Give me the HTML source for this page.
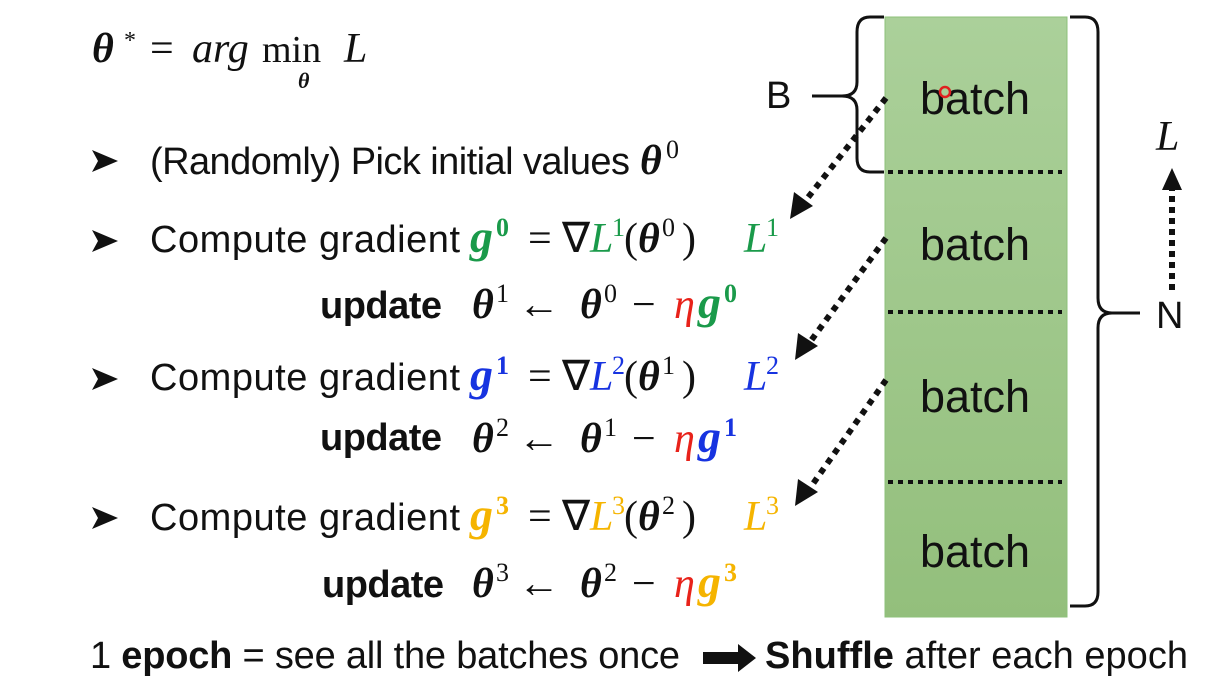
<!DOCTYPE html>
<html><head><meta charset="utf-8"><style>
html,body{margin:0;padding:0;background:#fff;width:1220px;height:691px;overflow:hidden}
svg{display:block}
.s{font-family:"Liberation Sans",sans-serif;font-size:38px;fill:#111}
.b{font-weight:bold}
.m{font-family:"Liberation Serif",serif;font-size:42px;fill:#111}
.i{font-style:italic}
.sup{font-size:26px}
.big{font-size:46px}
.g{fill:#1a9a4a}.bl{fill:#1733e0}.y{fill:#f5b400}.r{fill:#e8221a}
</style></head><body>
<svg width="1220" height="691" viewBox="0 0 1220 691" xmlns="http://www.w3.org/2000/svg">
<defs><linearGradient id="gr" x1="0" y1="0" x2="0" y2="1"><stop offset="0" stop-color="#abd09a"/><stop offset="1" stop-color="#93bf7c"/></linearGradient>
<g id="bul"><polygon points="0,-20 26,-9 0,2 6,-9" fill="#111"/></g></defs>
<rect x="885" y="17" width="182" height="600" fill="url(#gr)" stroke="#8cc07a" stroke-width="1"/>
<g stroke="#111" stroke-width="4" stroke-dasharray="5 5">
<line x1="888" y1="172" x2="1062" y2="172"/><line x1="888" y1="312" x2="1062" y2="312"/><line x1="888" y1="482" x2="1062" y2="482"/>
</g>
<g class="s" style="font-size:45px"><text x="920" y="114" textLength="110">batch</text><text x="920" y="260" textLength="110">batch</text><text x="920" y="412" textLength="110">batch</text><text x="920" y="567" textLength="110">batch</text></g>
<circle cx="945" cy="92" r="5" fill="none" stroke="#e02020" stroke-width="2.5"/>
<g fill="none" stroke="#111" stroke-width="3">
<path d="M884 17 H870 Q857 17 857 32 V82 Q857 96 842 96 H812 M842 96 Q857 96 857 110 V158 Q857 172 870 172 H884"/>
<path d="M1070 17 H1085 Q1098 17 1098 32 V298 Q1098 313 1112 313 H1140 M1112 313 Q1098 313 1098 328 V592 Q1098 606 1085 606 H1070"/>
</g>
<text class="s" x="766" y="108">B</text>
<text class="s" x="1156" y="328">N</text>
<text class="m i" x="1156" y="150">L</text>
<line x1="1172" y1="290" x2="1172" y2="190" stroke="#111" stroke-width="6" stroke-dasharray="6 5"/>
<polygon points="1172,168 1162,190 1182,190" fill="#111"/>
<g stroke="#111" stroke-width="6" stroke-dasharray="6 6">
<line x1="886" y1="98" x2="806" y2="200"/><line x1="886" y1="238" x2="810" y2="342"/><line x1="886" y1="380" x2="810" y2="488"/>
</g>
<g fill="#111"><polygon points="790,219 794,192 813,206"/><polygon points="795,360 798,333 818,346"/><polygon points="795,506 798,479 818,492"/></g>
<!-- title -->
<text class="m b i" x="92" y="62">θ</text>
<text class="m" x="124" y="48" style="font-size:24px">*</text>
<text class="m" x="150" y="62">=</text>
<text class="m i" x="192" y="62">arg</text>
<text class="m" x="262" y="62" style="font-size:38px">min</text>
<text class="m i" x="344" y="62">L</text>
<text class="m b i" x="298" y="88" style="font-size:22px">θ</text>
<!-- bullets -->
<use href="#bul" x="92" y="170"/><use href="#bul" x="92" y="250"/><use href="#bul" x="92" y="388"/><use href="#bul" x="92" y="527"/>
<text class="s" x="150" y="174" textLength="480">(Randomly) Pick initial values</text>
<text class="m b i" x="640" y="174">θ</text><text class="m sup" x="666" y="158">0</text>

<!-- row 1 -->
<text class="s" x="150" y="252" textLength="310">Compute gradient</text>
<text class="m b i g big" x="470" y="252">g</text><text class="m b g sup" x="496" y="236">0</text>
<text class="m" x="528" y="252">=</text><text class="m" x="562" y="252">∇</text>
<text class="m i g" x="590" y="252">L</text><text class="m g sup" x="612" y="236">1</text>
<text class="m" x="624" y="252">(</text><text class="m b i" x="638" y="252">θ</text><text class="m sup" x="662" y="236">0</text><text class="m" x="682" y="252">)</text>
<text class="m i g" x="744" y="252">L</text><text class="m g sup" x="766" y="236">1</text>
<text class="s b" x="320" y="318" textLength="122">update</text>
<text class="m b i" x="472" y="318">θ</text><text class="m sup" x="496" y="302">1</text>
<text class="m" x="518" y="318">←</text>
<text class="m b i" x="580" y="318">θ</text><text class="m sup" x="604" y="302">0</text>
<text class="m" x="632" y="318">−</text>
<text class="m i r" x="674" y="318">η</text>
<text class="m b i g big" x="698" y="318">g</text><text class="m b g sup" x="724" y="302">0</text>

<!-- row 2 -->
<text class="s" x="150" y="390" textLength="310">Compute gradient</text>
<text class="m b i bl big" x="470" y="390">g</text><text class="m b bl sup" x="496" y="374">1</text>
<text class="m" x="528" y="390">=</text><text class="m" x="562" y="390">∇</text>
<text class="m i bl" x="590" y="390">L</text><text class="m bl sup" x="612" y="374">2</text>
<text class="m" x="624" y="390">(</text><text class="m b i" x="638" y="390">θ</text><text class="m sup" x="662" y="374">1</text><text class="m" x="682" y="390">)</text>
<text class="m i bl" x="744" y="390">L</text><text class="m bl sup" x="766" y="374">2</text>
<text class="s b" x="320" y="450" textLength="122">update</text>
<text class="m b i" x="472" y="452">θ</text><text class="m sup" x="496" y="436">2</text>
<text class="m" x="518" y="452">←</text>
<text class="m b i" x="580" y="452">θ</text><text class="m sup" x="604" y="436">1</text>
<text class="m" x="632" y="452">−</text>
<text class="m i r" x="674" y="452">η</text>
<text class="m b i bl big" x="698" y="452">g</text><text class="m b bl sup" x="724" y="436">1</text>

<!-- row 3 -->
<text class="s" x="150" y="530" textLength="310">Compute gradient</text>
<text class="m b i y big" x="470" y="530">g</text><text class="m b y sup" x="496" y="514">3</text>
<text class="m" x="528" y="530">=</text><text class="m" x="562" y="530">∇</text>
<text class="m i y" x="590" y="530">L</text><text class="m y sup" x="612" y="514">3</text>
<text class="m" x="624" y="530">(</text><text class="m b i" x="638" y="530">θ</text><text class="m sup" x="662" y="514">2</text><text class="m" x="682" y="530">)</text>
<text class="m i y" x="744" y="530">L</text><text class="m y sup" x="766" y="514">3</text>
<text class="s b" x="322" y="597" textLength="122">update</text>
<text class="m b i" x="472" y="597">θ</text><text class="m sup" x="496" y="581">3</text>
<text class="m" x="518" y="597">←</text>
<text class="m b i" x="580" y="597">θ</text><text class="m sup" x="604" y="581">2</text>
<text class="m" x="632" y="597">−</text>
<text class="m i r" x="674" y="597">η</text>
<text class="m b i y big" x="698" y="597">g</text><text class="m b y sup" x="724" y="581">3</text>

<!-- bottom -->
<text class="s" x="90" y="668" textLength="590">1 <tspan class="b">epoch</tspan> = see all the batches once</text>
<polygon points="703,652 738,652 738,644 756,658 738,672 738,664 703,664" fill="#111"/>
<text class="s" x="765" y="668" textLength="423"><tspan class="b">Shuffle</tspan> after each epoch</text>
</svg>
</body></html>
